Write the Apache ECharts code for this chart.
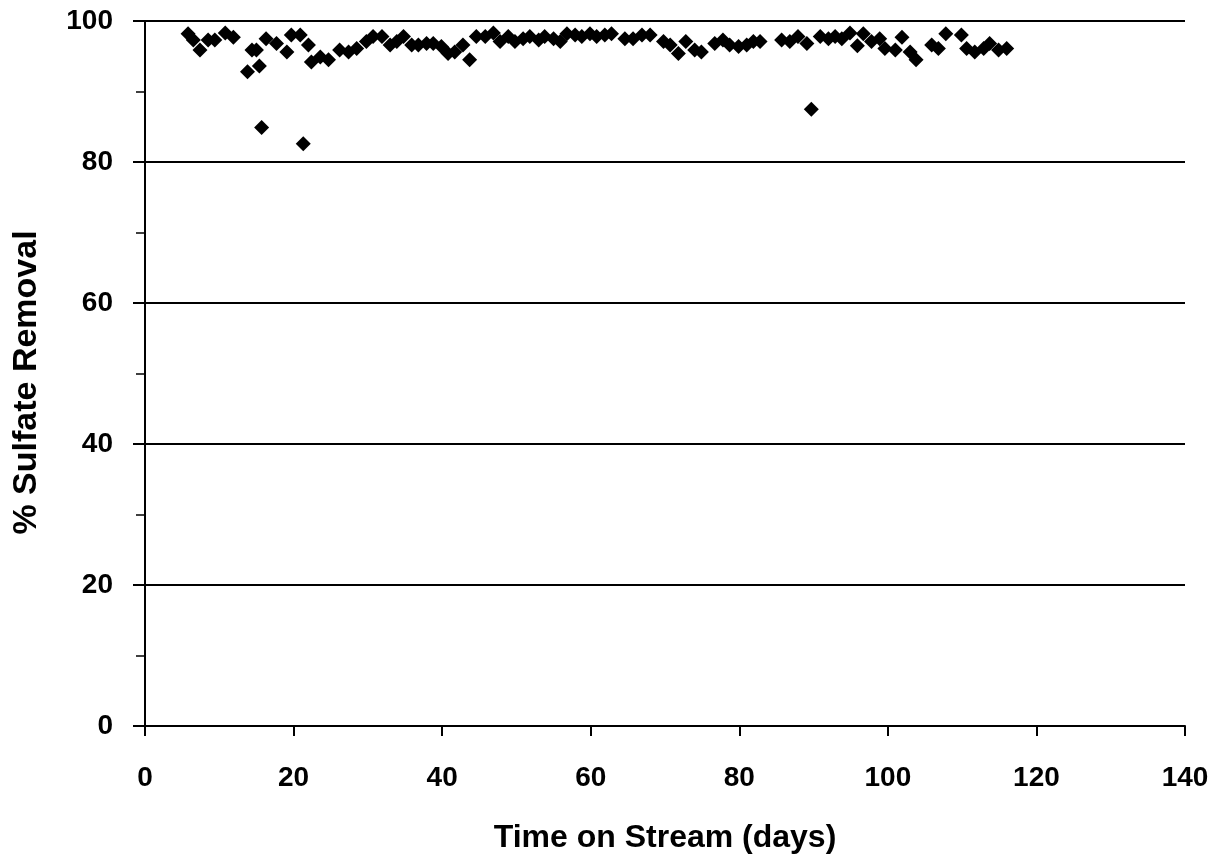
<!DOCTYPE html>
<html>
<head>
<meta charset="utf-8">
<script src="https://cdn.jsdelivr.net/npm/echarts@6/dist/echarts.min.js"></script>
<style>
  html, body { margin: 0; padding: 0; background: #fff; }
  #chart { width: 1218px; height: 854px; }
</style>
</head>
<body>
<div id="chart"></div>
<script>
// time on stream (days) and % sulfate removal
var days = [5.8, 6.5, 7.4, 8.5, 9.4, 10.8, 11.9, 13.8, 14.4, 15.0, 15.4, 15.7, 16.3, 17.7, 19.1, 19.7, 20.9, 21.3,
    22.0, 22.4, 23.6, 24.7, 26.2, 27.4, 28.5, 29.8, 30.7, 31.9, 33.0, 33.9, 34.8, 35.9, 36.8, 37.9, 38.8, 39.9,
    40.8, 41.7, 42.8, 43.7, 44.6, 45.8, 46.9, 47.8, 48.9, 49.8, 50.9, 51.8, 53.0, 53.8, 55.0, 55.9, 56.8, 57.9,
    58.8, 59.9, 60.8, 61.9, 62.8, 64.6, 65.7, 66.9, 68.0, 69.8, 70.7, 71.8, 72.8, 74.0, 74.9, 76.7, 77.8, 78.7,
    79.9, 81.0, 81.9, 82.8, 85.7, 86.8, 87.9, 89.1, 89.7, 90.9, 92.0, 92.9, 93.8, 94.9, 95.9, 96.7, 97.8, 98.9,
    99.6, 101.0, 101.9, 103.0, 103.8, 105.9, 106.8, 107.8, 109.9, 110.6, 111.7, 112.9, 113.7, 114.9, 116.0];
var removal = [98.2, 97.3, 95.9, 97.3, 97.3, 98.3, 97.7, 92.8, 95.9, 95.9, 93.6, 84.9, 97.5, 96.8, 95.6, 98.0, 98.0, 82.6,
    96.6, 94.2, 94.9, 94.5, 95.9, 95.6, 96.1, 97.1, 97.8, 97.8, 96.6, 97.1, 97.8, 96.6, 96.6, 96.8, 96.8, 96.4,
    95.4, 95.6, 96.6, 94.5, 97.8, 97.8, 98.3, 97.1, 97.8, 97.1, 97.5, 97.8, 97.3, 97.8, 97.5, 97.1, 98.2, 98.0,
    97.8, 98.2, 97.8, 98.0, 98.2, 97.5, 97.5, 98.0, 98.0, 97.1, 96.6, 95.4, 97.1, 95.9, 95.6, 96.8, 97.3, 96.6,
    96.4, 96.6, 97.1, 97.1, 97.3, 97.1, 97.8, 96.8, 87.5, 97.8, 97.5, 97.8, 97.5, 98.3, 96.5, 98.2, 97.1, 97.5,
    96.1, 95.9, 97.7, 95.6, 94.5, 96.6, 96.1, 98.2, 98.0, 96.1, 95.6, 96.1, 96.8, 95.9, 96.1];

var points = [];
for (var i = 0; i < days.length; i++) {
    points.push([days[i], removal[i]]);
}

var fontFamily = 'Liberation Sans, Arial, sans-serif';

function boldText(size) {
    return {
        fontFamily: fontFamily,
        fontWeight: 'bold',
        fontSize: size,
        color: '#000'
    };
}

var option = {
    animation: false,
    backgroundColor: '#fff',
    grid: {
        left: 145,
        right: 33,
        top: 21,
        bottom: 128,
        outerBoundsMode: 'none',
        containLabel: false
    },
    xAxis: {
        type: 'value',
        min: 0,
        max: 140,
        interval: 20,
        name: 'Time on Stream (days)',
        nameLocation: 'middle',
        nameGap: 96,
        nameTextStyle: boldText(32),
        axisLine: { show: true, onZero: false, lineStyle: { color: '#000', width: 2 } },
        axisTick: { show: true, inside: false, length: 10, lineStyle: { color: '#000', width: 2 } },
        axisLabel: Object.assign({ margin: 38 }, boldText(28)),
        splitLine: { show: false }
    },
    yAxis: {
        type: 'value',
        min: 0,
        max: 100,
        interval: 20,
        name: '% Sulfate Removal',
        nameLocation: 'middle',
        nameGap: 101,
        nameRotate: 90,
        nameTextStyle: Object.assign({ padding: [0, 18, 0, 0] }, boldText(34)),
        axisLine: { show: true, onZero: false, lineStyle: { color: '#000', width: 2 } },
        axisTick: { show: true, inside: false, length: 12, lineStyle: { color: '#000', width: 2 } },
        minorTick: { show: true, splitNumber: 2, length: 9, lineStyle: { color: '#000', width: 1.5 } },
        axisLabel: Object.assign({ margin: 32 }, boldText(28)),
        splitLine: { show: true, lineStyle: { color: '#000', width: 2 } }
    },
    series: [
        {
            name: 'Sulfate removal',
            type: 'scatter',
            symbol: 'diamond',
            symbolSize: [15, 15],
            itemStyle: { color: '#000', opacity: 1 },
            data: points
        }
    ]
};

var chart = echarts.init(document.getElementById('chart'));
chart.setOption(option);
</script>
</body>
</html>
